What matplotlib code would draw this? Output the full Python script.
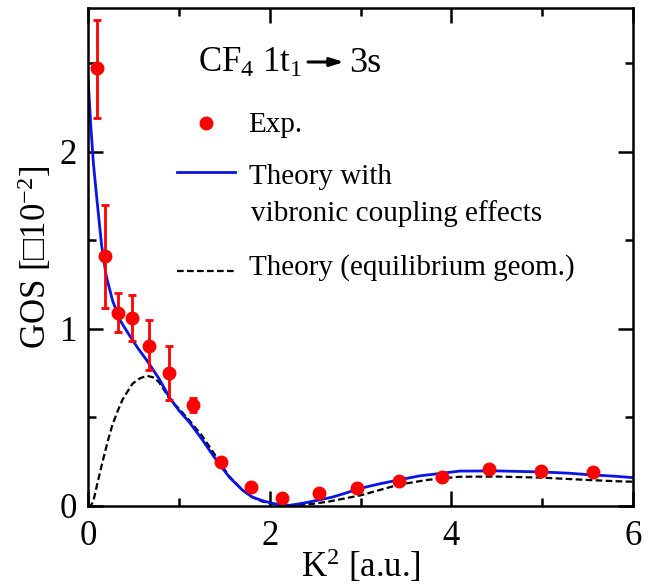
import numpy as np
import matplotlib
matplotlib.use("Agg")
import matplotlib.pyplot as plt
from matplotlib.ticker import MultipleLocator

# - Datos:

exp_x = [0.10, 0.19, 0.33, 0.48, 0.67, 0.89, 1.16, 1.46, 1.79, 2.14, 2.54, 2.96,
         3.42, 3.90, 4.42, 4.99, 5.56]
exp_y = [2.47, 1.41, 1.09, 1.06, 0.90, 0.75, 0.57, 0.25, 0.11, 0.045, 0.073, 0.10,
         0.14, 0.165, 0.21, 0.20, 0.19]
exp_lo = [0.28, 0.29, 0.11, 0.13, 0.13, 0.15, 0.04, 0, 0, 0, 0, 0, 0, 0, 0, 0, 0]
exp_hi = [0.27, 0.29, 0.11, 0.13, 0.15, 0.15, 0.04, 0, 0, 0, 0, 0, 0, 0, 0, 0, 0]

vib_x = [0.0, 0.03, 0.06, 0.10, 0.15, 0.20, 0.27, 0.35, 0.46, 0.55, 0.65, 0.78, 0.90,
         1.00, 1.12, 1.25, 1.37, 1.47, 1.56, 1.70, 1.81, 1.92, 2.03, 2.12, 2.22, 2.30,
         2.41, 2.55, 2.69, 2.85, 3.00, 3.21, 3.42, 3.65, 3.90, 4.09, 4.50, 5.00, 5.30,
         5.50, 5.80, 6.00]
vib_y = [2.42, 2.15, 1.93, 1.72, 1.47, 1.30, 1.16, 1.05, 0.96, 0.89, 0.82, 0.72, 0.61,
         0.54, 0.47, 0.38, 0.29, 0.22, 0.16, 0.09, 0.05, 0.03, 0.015, 0.007, 0.004, 0.01,
         0.02, 0.035, 0.05, 0.075, 0.10, 0.125, 0.147, 0.17, 0.185, 0.197, 0.198, 0.192,
         0.185, 0.177, 0.168, 0.16]

eq_x = [0.0, 0.03, 0.06, 0.10, 0.16, 0.22, 0.27, 0.33, 0.38, 0.44, 0.49, 0.57, 0.65,
        0.72, 0.78, 0.85, 0.90, 1.00, 1.12, 1.25, 1.37, 1.47, 1.56, 1.70, 1.81, 1.92,
        2.03, 2.15, 2.30, 2.47, 2.65, 2.85, 3.00, 3.21, 3.42, 3.73, 4.09, 4.50, 5.00,
        5.30, 5.50, 5.80, 6.00]
eq_y = [0.0, 0.0, 0.03, 0.12, 0.25, 0.37, 0.46, 0.54, 0.60, 0.65, 0.69, 0.72, 0.735,
        0.725, 0.70, 0.645, 0.60, 0.55, 0.48, 0.40, 0.31, 0.23, 0.165, 0.09, 0.05, 0.025,
        0.012, 0.005, 0.005, 0.012, 0.025, 0.045, 0.06, 0.09, 0.12, 0.147, 0.165, 0.166,
        0.16, 0.152, 0.147, 0.14, 0.137]

# - Estilo general:

plt.rcParams['font.family'] = ['Liberation Serif', 'DejaVu Serif']
plt.rcParams['mathtext.fontset'] = 'custom'
plt.rcParams['mathtext.rm'] = 'Liberation Serif'
plt.rcParams['mathtext.it'] = 'Liberation Serif:italic'

fig = plt.figure(figsize=(6.54, 5.87), dpi=100)
ax = fig.add_axes([88 / 654, 81 / 587, 545 / 654, 498 / 587])

# - Curvas y puntos:

ax.plot(eq_x, eq_y, color='black', ls=(0, (3, 1.5)), lw=1.6)
ax.plot(vib_x, vib_y, color='#0a14e6', lw=2.0)
ax.errorbar(exp_x, exp_y, yerr=[exp_lo, exp_hi], fmt='o', color='red', ms=9,
            ecolor='red', elinewidth=2, capsize=3, capthick=2)

# - Ejes:

ax.set_xlim(0, 6)
ax.set_ylim(0, 2.81)
ax.xaxis.set_major_locator(MultipleLocator(2))
ax.xaxis.set_minor_locator(MultipleLocator(1))
ax.yaxis.set_major_locator(MultipleLocator(1))
ax.yaxis.set_minor_locator(MultipleLocator(0.5))
ax.tick_params(which='both', direction='in', top=True, right=True, width=1.8,
               labelsize=25)
ax.tick_params(which='major', length=11)
ax.tick_params(axis='x', which='major', pad=10)
ax.tick_params(axis='y', which='major', pad=8)
ax.tick_params(which='minor', length=6)
for s in ax.spines.values():
    s.set_linewidth(1.8)

ax.set_xlabel(r"K$^2$ [a.u.]", fontsize=25, labelpad=-4)
ax.set_ylabel(r"GOS [□10$^{-2}$]", fontsize=25, labelpad=4)

# - Leyenda manual:

def px(x, y):
    return ((x - 88) / 545, (506 - y) / 498)

ax.text(*px(198, 63), r"CF$_4$ 1t$_1$", transform=ax.transAxes,
        fontsize=25, va='center', ha='left')
ax.annotate("", xy=px(344, 62), xytext=px(308, 62), xycoords='axes fraction',
            textcoords='axes fraction',
            arrowprops=dict(arrowstyle='-|>,head_length=0.8,head_width=0.25',
                            color='black', lw=2.2, shrinkA=0, shrinkB=0))
ax.text(*px(349, 63), "3s", transform=ax.transAxes, fontsize=26, va='center',
        ha='left')
ax.plot(*px(206, 123), 'o', color='red', ms=9, transform=ax.transAxes)
ax.text(*px(248, 125), "Exp.", transform=ax.transAxes, fontsize=21, va='center')
ax.plot([px(177, 0)[0], px(235, 0)[0]], [px(0, 172)[1]] * 2, color='#0a14e6',
        lw=2.0, transform=ax.transAxes)
ax.text(*px(249, 177), "Theory with", transform=ax.transAxes, fontsize=21,
        va='center')
ax.text(*px(251, 214), "vibronic coupling effects", transform=ax.transAxes,
        fontsize=21, va='center')
ax.plot([px(177, 0)[0], px(237, 0)[0]], [px(0, 271)[1]] * 2, color='black',
        ls=(0, (3, 1.5)), lw=1.6, transform=ax.transAxes)
ax.text(*px(249, 268), "Theory (equilibrium geom.)", transform=ax.transAxes,
        fontsize=21, va='center')

fig.savefig("out.png", dpi=100)
